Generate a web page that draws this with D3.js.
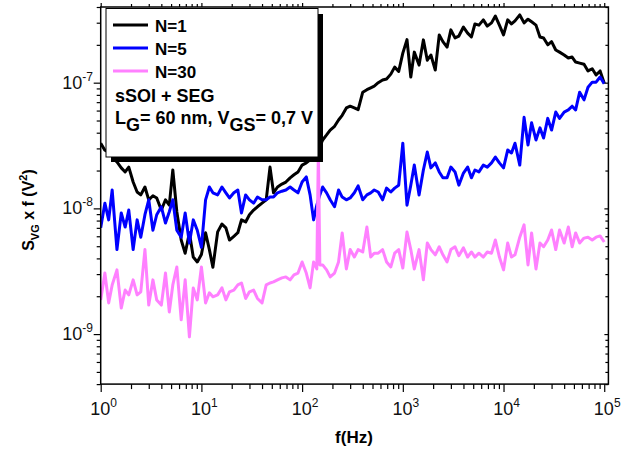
<!DOCTYPE html>
<html><head><meta charset="utf-8">
<script src="https://cdn.jsdelivr.net/npm/d3@7"></script>
<style>body{margin:0;background:#fff}svg{display:block;font-family:"Liberation Sans",Arial,sans-serif}</style>
</head><body><svg id="c" width="631" height="452"></svg>
<script>
const freq = [1,1.1,1.2,1.3,1.45,1.6,1.75,1.9,2.1,2.3,2.5,2.75,3,3.3,3.6,4,4.4,4.8,5.2,5.7,6.3,6.9,7.6,8.3,9.1,
10,11,12,13,14.5,16,17.5,19,21,23,25,27.5,30,33,36,40,44,48,52,57,63,69,76,83,91,
100,110,120,130,140,145,150,160,175,190,210,230,250,275,300,330,360,400,440,480,520,570,630,690,760,830,910,
1000,1100,1200,1300,1450,1600,1750,1900,2100,2300,2500,2750,3000,3300,3600,4000,4400,4800,5200,5700,6300,6900,7600,8300,9100,
10000,11000,12000,13000,14500,16000,17500,19000,21000,23000,25000,27500,30000,33000,36000,40000,44000,48000,52000,57000,63000,69000,76000,83000,91000,100000];

const n1 = [3.3e-8,2.9e-8,2.8e-8,2.6e-8,2.34e-8,2.1e-8,1.95e-8,2.13e-8,1.62e-8,1.35e-8,1.28e-8,1.48e-8,1.17e-8,1.26e-8,1.21e-8,9.7e-9,1.17e-8,1.06e-8,2.02e-8,9.4e-9,5.6e-9,4.4e-9,6.4e-9,4.1e-9,3.75e-9,
4.3e-9,6.4e-9,4.7e-9,3.4e-9,6.5e-9,7.5e-9,7.0e-9,5.6e-9,6.0e-9,6.4e-9,8.1e-9,7.8e-9,8.9e-9,9.7e-9,1.03e-8,1.10e-8,1.17e-8,2.13e-8,1.33e-8,1.48e-8,1.56e-8,1.62e-8,1.75e-8,1.85e-8,1.95e-8,
2.21e-8,2.3e-8,2.43e-8,2.66e-8,2.9e-8,3.02e-8,3.1e-8,3.5e-8,3.84e-8,4.2e-8,4.5e-8,5.05e-8,5.5e-8,6.3e-8,6.5e-8,6.3e-8,6.1e-8,8.4e-8,8.8e-8,9.1e-8,9.4e-8,1.0e-7,1.05e-7,1.07e-7,1.17e-7,1.33e-7,1.23e-7,
1.72e-7,2.2e-7,1.11e-7,1.75e-7,1.38e-7,2.19e-7,1.51e-7,1.66e-7,1.26e-7,2.4e-7,2.12e-7,1.92e-7,2.63e-7,2.27e-7,2.35e-7,2.77e-7,2.48e-7,2.31e-7,2.93e-7,2.87e-7,3.16e-7,2.82e-7,2.99e-7,3.39e-7,2.87e-7,
2.4e-7,3.16e-7,2.93e-7,3.1e-7,3.46e-7,2.99e-7,3.2e-7,3.05e-7,2.87e-7,2.31e-7,2.27e-7,2.0e-7,2.12e-7,1.82e-7,1.75e-7,1.66e-7,1.57e-7,1.6e-7,1.46e-7,1.43e-7,1.40e-7,1.24e-7,1.29e-7,1.15e-7,1.24e-7,9.9e-8];

const n5 = [7.0e-9,1.1e-8,8.1e-9,1.4e-8,4.7e-9,9.2e-9,7.1e-9,9.7e-9,4.7e-9,8.1e-9,5.9e-9,8.9e-9,1.17e-8,6.7e-9,8.9e-9,1.03e-8,7.65e-9,9.4e-9,1.17e-8,6.7e-9,5.9e-9,9.2e-9,5.3e-9,8.1e-9,6.7e-9,
4.9e-9,1.17e-8,1.48e-8,1.33e-8,1.28e-8,1.48e-8,1.33e-8,1.21e-8,1.33e-8,1.4e-8,9.2e-9,1.28e-8,1.17e-8,1.1e-8,1.23e-8,1.17e-8,1.17e-8,1.23e-8,1.23e-8,1.33e-8,1.37e-8,1.4e-8,1.48e-8,1.4e-8,1.33e-8,
1.62e-8,1.78e-8,1.28e-8,8.1e-9,1.06e-8,1.17e-8,1.28e-8,1.48e-8,1.33e-8,1.17e-8,1.03e-8,1.4e-8,1.23e-8,1.17e-8,1.21e-8,1.33e-8,1.51e-8,1.17e-8,1.28e-8,1.33e-8,1.4e-8,1.35e-8,1.17e-8,1.45e-8,1.35e-8,1.45e-8,1.53e-8,
3.3e-8,1.06e-8,1.53e-8,2.21e-8,1.28e-8,2.02e-8,2.81e-8,2.1e-8,2.3e-8,1.95e-8,1.75e-8,1.75e-8,2.13e-8,1.95e-8,1.53e-8,1.91e-8,2.13e-8,1.75e-8,2.02e-8,1.95e-8,2.21e-8,2.13e-8,2.3e-8,2.56e-8,2.3e-8,
2.1e-8,2.91e-8,2.76e-8,3.3e-8,2.21e-8,5.3e-8,3.19e-8,4.8e-8,3.5e-8,4.37e-8,3.63e-8,5.2e-8,4.2e-8,5.84e-8,5.2e-8,5.84e-8,6.07e-8,6.5e-8,6.07e-8,8.4e-8,7.3e-8,9.2e-8,1.01e-7,1.01e-7,1.11e-7,9.8e-8];

const n30 = [1.87e-9,3.06e-9,1.77e-9,2.46e-9,3.24e-9,1.61e-9,2.24e-9,2.05e-9,2.7e-9,2.05e-9,2.17e-9,4.7e-9,1.7e-9,2.7e-9,1.87e-9,1.7e-9,3.06e-9,1.5e-9,2.46e-9,3.42e-9,1.3e-9,2.7e-9,9.5e-10,2.33e-9,1.87e-9,
3.42e-9,1.77e-9,2.13e-9,1.98e-9,2.05e-9,2.33e-9,1.87e-9,2.17e-9,2.24e-9,2.46e-9,2.55e-9,1.92e-9,2.17e-9,2.24e-9,1.92e-9,1.77e-9,2.46e-9,2.55e-9,2.6e-9,2.7e-9,2.8e-9,2.85e-9,2.7e-9,2.96e-9,3.06e-9,
3.75e-9,3.06e-9,2.33e-9,3.75e-9,3.3e-9,2.91e-8,3.55e-9,3.55e-9,3.24e-9,2.85e-9,3.06e-9,3.75e-9,6.38e-9,3.3e-9,4.7e-9,4.1e-9,4.7e-9,4.5e-9,7.1e-9,4.1e-9,4.4e-9,4.4e-9,4.7e-9,3.75e-9,3.42e-9,4.4e-9,4.7e-9,
3.35e-9,6.49e-9,4.7e-9,3.3e-9,4.7e-9,2.7e-9,5.3e-9,4.7e-9,4.27e-9,4.95e-9,4.27e-9,3.75e-9,4.7e-9,4.95e-9,4.2e-9,4.85e-9,4.1e-9,4.5e-9,4.1e-9,4.4e-9,4.1e-9,4.5e-9,4.4e-9,5.6e-9,4.1e-9,
3.24e-9,5.3e-9,4.1e-9,4.27e-9,5.9e-9,7.4e-9,3.55e-9,6.38e-9,3.3e-9,5.3e-9,4.95e-9,5.6e-9,6.73e-9,4.7e-9,6.73e-9,5.3e-9,7.1e-9,4.95e-9,6.38e-9,5.3e-9,5.8e-9,5.9e-9,5.6e-9,5.9e-9,6.04e-9,5.4e-9];

const seriesNames = ["N=1","N=5","N=30"];
const seriesColors = ["#000000","#0000ff","#ff80ff"];
const xMajor = [1,10,100,1000,10000,100000];
const xExp = ["0","1","2","3","4","5"];
const yMajor = [1e-9,1e-8,1e-7];
const yExp = ["-9","-8","-7"];
const minorMult = [2,3,4,5,6,7,8,9];

const svg = d3.select("#c");
const L = 100.7, R = 608.4, T = 7, B = 384.1;
const x = d3.scaleLog().domain([1, 1.1e5]).range([L, R]);
const y = d3.scaleLog().domain([4e-10, 4e-7]).range([B, T]);

const xMinor = [];
xMajor.forEach(m => minorMult.forEach(k => { const v = m*k; if (v < 1.1e5) xMinor.push(v); }));
const yMinor = [];
[1e-10,1e-9,1e-8,1e-7].forEach(m => minorMult.forEach(k => { const v = m*k; if (v >= 4e-10 && v <= 4e-7) yMinor.push(v); }));

// data lines
svg.append("clipPath").attr("id","clip").append("rect").attr("x",L).attr("y",T).attr("width",R-L).attr("height",B-T);
const g = svg.append("g").attr("clip-path","url(#clip)");
[n1,n5,n30].forEach((s,i) => {
  const line = d3.line().x((d,j) => x(freq[j])).y(d => y(d));
  g.append("path").datum(s).attr("d", line).attr("fill","none")
    .attr("stroke", seriesColors[i]).attr("stroke-width", 3).attr("stroke-linejoin","round");
});

// axes
function ax(gen, tr, vals, size) {
  const a = svg.append("g").attr("transform", tr).call(gen.tickValues(vals).tickSize(size).tickFormat(""));
  a.selectAll("line").attr("stroke","#000").attr("stroke-width",1.2);
  a.select(".domain").remove();
  return a;
}
ax(d3.axisBottom(x), `translate(0,${B})`, xMajor, 8);
ax(d3.axisBottom(x), `translate(0,${B})`, xMinor, 5);
ax(d3.axisTop(x), `translate(0,${T})`, xMajor, 4);
ax(d3.axisTop(x), `translate(0,${T})`, xMinor, 3);
ax(d3.axisLeft(y), `translate(${L},0)`, yMajor, 7);
ax(d3.axisLeft(y), `translate(${L},0)`, yMinor, 4);
ax(d3.axisRight(y), `translate(${R},0)`, yMajor, -4);
ax(d3.axisRight(y), `translate(${R},0)`, yMinor, -3);
svg.append("rect").attr("x",L).attr("y",T).attr("width",R-L).attr("height",B-T)
  .attr("fill","none").attr("stroke","#000").attr("stroke-width",1.5);

// tick labels
xMajor.forEach((v,i) => {
  const t = svg.append("text").attr("x", x(v)+3).attr("y", 415).attr("text-anchor","middle")
    .attr("font-size",18).attr("fill","#111");
  t.append("tspan").text("10");
  t.append("tspan").attr("dy",-8).attr("font-size",12).text(xExp[i]);
});
yMajor.forEach((v,i) => {
  const t = svg.append("text").attr("x", 93).attr("y", y(v)+6).attr("text-anchor","end")
    .attr("font-size",18).attr("fill","#111");
  t.append("tspan").text("10");
  t.append("tspan").attr("dy",-8).attr("font-size",12).text(yExp[i]);
});

// axis titles
svg.append("text").attr("x", 354).attr("y", 443).attr("text-anchor","middle")
  .attr("font-size",17).attr("font-weight","bold").text("f(Hz)");
const yt = svg.append("text").attr("transform","translate(34,210) rotate(-90)").attr("text-anchor","middle")
  .attr("font-size",16).attr("font-weight","bold");
yt.append("tspan").text("S");
yt.append("tspan").attr("dy",5).attr("font-size",11).text("VG");
yt.append("tspan").attr("dy",-5).text(" x f (V");
yt.append("tspan").attr("dy",-7).attr("font-size",11).text("2");
yt.append("tspan").attr("dy",7).text(")");

// legend
svg.append("rect").attr("x",111).attr("y",14).attr("width",212).attr("height",148).attr("fill","#000");
svg.append("rect").attr("x",106).attr("y",8.5).attr("width",212).attr("height",148.5)
  .attr("fill","#fff").attr("stroke","#000").attr("stroke-width",1);
const legY = [25, 48, 71];
seriesNames.forEach((n,i) => {
  svg.append("line").attr("x1",113).attr("x2",148).attr("y1",legY[i]).attr("y2",legY[i])
    .attr("stroke",seriesColors[i]).attr("stroke-width",3);
  svg.append("text").attr("x",155).attr("y",legY[i]+7).attr("font-size",17).attr("font-weight","bold").text(n);
});
svg.append("text").attr("x",115).attr("y",102).attr("font-size",18).attr("font-weight","bold").text("sSOI + SEG");
const lt = svg.append("text").attr("x",115).attr("y",124).attr("font-size",18).attr("font-weight","bold");
lt.append("tspan").text("L");
lt.append("tspan").attr("dy",7).text("G");
lt.append("tspan").attr("dy",-7).text("= 60 nm, V");
lt.append("tspan").attr("dy",7).text("GS");
lt.append("tspan").attr("dy",-7).text("= 0,7 V");
</script></body></html>
